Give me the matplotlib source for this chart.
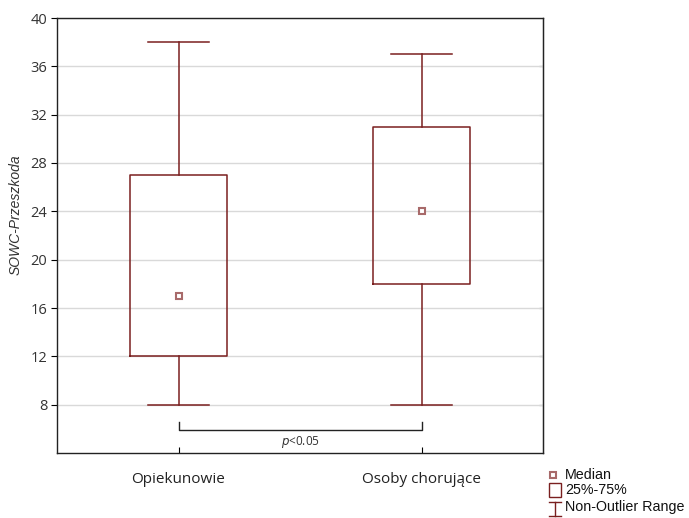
import matplotlib
matplotlib.use("Agg")
import matplotlib.pyplot as plt
from matplotlib.lines import Line2D
from matplotlib.patches import Rectangle

# data
groups = ["Opiekunowie", "Osoby chorujące"]
medians = [17, 24]
q1 = [12, 18]
q3 = [27, 31]
whisk_lo = [8, 8]
whisk_hi = [38, 37]
yticks = [8, 12, 16, 20, 24, 28, 32, 36, 40]

box_color = "#7a1f1f"
med_color = "#a86a6a"

plt.rcParams["font.family"] = ["Open Sans", "DejaVu Sans"]

fig = plt.figure(figsize=(6.89, 5.18), dpi=100)
ax = fig.add_axes([57 / 689, 1 - 453 / 518, 486 / 689, 435 / 518])

stats = []
for i, g in enumerate(groups):
    stats.append({
        "label": g, "med": medians[i], "q1": q1[i], "q3": q3[i],
        "whislo": whisk_lo[i], "whishi": whisk_hi[i], "fliers": [],
    })

ax.bxp(stats, positions=[0, 1], widths=0.4, showmeans=False,
       boxprops=dict(color=box_color, linewidth=1.1),
       whiskerprops=dict(color=box_color, linewidth=1.1),
       capprops=dict(color=box_color, linewidth=1.1),
       medianprops=dict(linewidth=0), capwidths=0.25)
ax.plot([0, 1], medians, linestyle="none", marker="s", markersize=5,
        markerfacecolor="white", markeredgecolor=med_color, markeredgewidth=1.5,
        zorder=5)

ax.set_xlim(-0.5, 1.5)
ax.set_ylim(4, 40)
ax.set_yticks(yticks)
ax.set_yticklabels([str(t) for t in yticks], fontsize=10.5, color="#333333")
ax.set_xticks([0, 1])
ax.set_xticklabels(groups, fontsize=11, color="#222222")
ax.tick_params(axis="x", direction="in", length=4, pad=14)
ax.tick_params(axis="y", direction="out", length=4, pad=3)
ax.yaxis.grid(True, color="#d9d9d9", linewidth=1)
ax.set_axisbelow(True)
for s in ax.spines.values():
    s.set_color("#222222")
    s.set_linewidth(1)

# small inward ticks on the right side
right = ax.secondary_yaxis("right")
right.set_yticks(yticks[:-1])
right.tick_params(direction="in", length=3, labelright=False)
right.spines["right"].set_color("#222222")

ax.set_ylabel("SOWC-Przeszkoda", fontsize=10, style="italic", color="#333333",
              family=["Liberation Sans", "DejaVu Sans"])
ax.yaxis.set_label_coords(-0.07, 0.547)

# significance bracket
ax.plot([0, 0, 1, 1], [6.6, 5.9, 5.9, 6.6], color="#222222", linewidth=1)
ax.text(0.5, 5.6, r"$\it{p}$<0.05", ha="center", va="top", fontsize=8.5,
        color="#333333")

# legend drawn by hand in pixel coordinates
def px(x, y):
    return x / 689, 1 - y / 518

fig.add_artist(Line2D([px(553, 0)[0]], [px(0, 475)[1]], marker="s", markersize=5,
                      markerfacecolor="white", markeredgecolor=med_color,
                      markeredgewidth=1.5, transform=fig.transFigure))
x0, y0 = px(549, 497)
fig.add_artist(Rectangle((x0, y0), 12 / 689, 14 / 518, fill=False,
                         edgecolor=box_color, linewidth=1, transform=fig.transFigure))
for xs, ys in [((549, 561), (502, 502)), ((555, 555), (502, 516)), ((549, 561), (516, 516))]:
    fig.add_artist(Line2D([xs[0] / 689, xs[1] / 689], [1 - ys[0] / 518, 1 - ys[1] / 518],
                          color=box_color, linewidth=1, transform=fig.transFigure))
for label, y in [("Median", 475), ("25%-75%", 490), ("Non-Outlier Range", 507)]:
    fig.text(565 / 689, 1 - y / 518, label, fontsize=10.3, va="center", ha="left",
             family=["Liberation Sans", "DejaVu Sans"], color="#111111")

fig.savefig("out.png", dpi=100)
